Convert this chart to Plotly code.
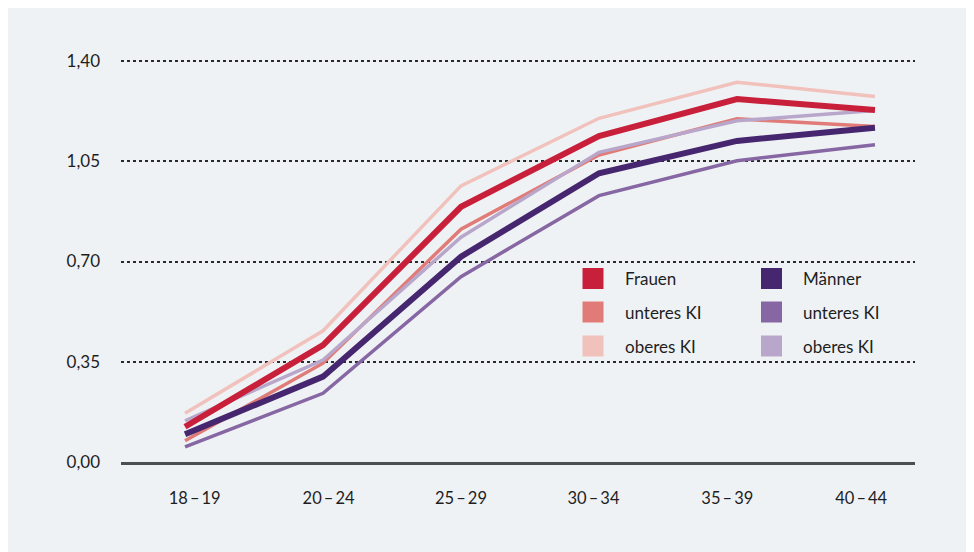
import plotly.graph_objects as go

age_groups = ["18\u2009\u2013\u200919", "20\u2009\u2013\u200924", "25\u2009\u2013\u200929",
              "30\u2009\u2013\u200934", "35\u2009\u2013\u200939", "40\u2009\u2013\u200944"]

frauen = [0.123, 0.408, 0.891, 1.138, 1.267, 1.229]
frauen_unteres = [0.074, 0.345, 0.813, 1.072, 1.198, 1.171]
frauen_oberes = [0.170, 0.458, 0.964, 1.200, 1.326, 1.276]

maenner = [0.097, 0.298, 0.717, 1.008, 1.121, 1.167]
maenner_unteres = [0.053, 0.240, 0.647, 0.930, 1.052, 1.108]
maenner_oberes = [0.144, 0.356, 0.785, 1.081, 1.191, 1.227]

y_ticks = [0.0, 0.35, 0.70, 1.05, 1.40]

legend_labels = ["Frauen", "unteres KI", "oberes KI", "Männer", "unteres KI", "oberes KI"]

C_F = "#c8203a"
C_FL = "#e07b78"
C_FU = "#f1c1bc"
C_M = "#46266e"
C_ML = "#8667a3"
C_MU = "#b8a7ca"
BG = "#eff2f5"
FONT = "Lato, 'Open Sans', sans-serif"

x_idx = list(range(len(age_groups)))
# tick labels in the original sit slightly off the data points
tick_pos = [0.07, 1.04, 2.0, 2.96, 3.93, 4.9]

fig = go.Figure()
series = [
    (maenner_unteres, C_ML, 3.5),
    (frauen_unteres, C_FL, 3.5),
    (maenner_oberes, C_MU, 3.5),
    (frauen_oberes, C_FU, 3.5),
    (maenner, C_M, 6),
    (frauen, C_F, 6),
]
for vals, col, w in series:
    fig.add_trace(go.Scatter(x=x_idx, y=vals, mode="lines",
                             line=dict(color=col, width=w),
                             showlegend=False, hoverinfo="skip"))

OFF = 8  # page body margin
W, H = 974, 552
Y0_PX, Y140_PX = 462, 61
scale = (Y0_PX - Y140_PX) / 1.4
L = 121 - OFF
T = 50
R = W - (915 - OFF)
B = H - (Y0_PX - OFF)
y_top = 1.4 + ((Y140_PX - OFF) - T) / scale
pw, ph = W - L - R, H - T - B

def px_x(p):
    return (p - OFF - L) / pw

def px_y(p):
    return (H - B - (p - OFF)) / ph

shapes = []
annotations = []
leg_cols = [C_F, C_FL, C_FU, C_M, C_ML, C_MU]
row_centers = [278.5, 312, 346]
col_x = [582.5, 761]
for i, (lab, col) in enumerate(zip(legend_labels, leg_cols)):
    c = i // 3
    r = i % 3
    x0 = col_x[c]
    yc = row_centers[r]
    shapes.append(dict(type="rect", xref="paper", yref="paper",
                       x0=px_x(x0), x1=px_x(x0 + 21),
                       y0=px_y(yc + 10.5), y1=px_y(yc - 10.5),
                       fillcolor=col, line=dict(width=0)))
    annotations.append(dict(xref="paper", yref="paper", x=px_x(x0 + 40), y=px_y(yc),
                            text=lab, showarrow=False, xanchor="left", yanchor="middle",
                            font=dict(family=FONT, size=17, color="#1e1e1e")))

fig.update_layout(
    width=W, height=H,
    margin=dict(l=L, r=R, t=T, b=B, pad=0),
    paper_bgcolor=BG, plot_bgcolor=BG,
    separators=",.",
    font=dict(family=FONT, size=17, color="#1e1e1e"),
    shapes=shapes, annotations=annotations,
    showlegend=False,
)
fig.update_xaxes(
    range=[-0.464, 5.29], tickvals=tick_pos, ticktext=age_groups,
    showgrid=False, zeroline=False, showline=True, linecolor="#4a4f52", linewidth=2.5,
    ticks="", ticklabelstandoff=19, tickfont=dict(size=16.5, color="#1e1e1e"),
)
fig.update_yaxes(
    range=[0, y_top], tickvals=y_ticks, tickformat=".2f",
    showgrid=True, gridcolor="#2a2a2a", griddash="dot", gridwidth=1.5,
    zeroline=False, showline=False, ticks="", ticklabelstandoff=20,
    tickfont=dict(size=17, color="#1e1e1e"),
)

fig.write_html("out.html")
